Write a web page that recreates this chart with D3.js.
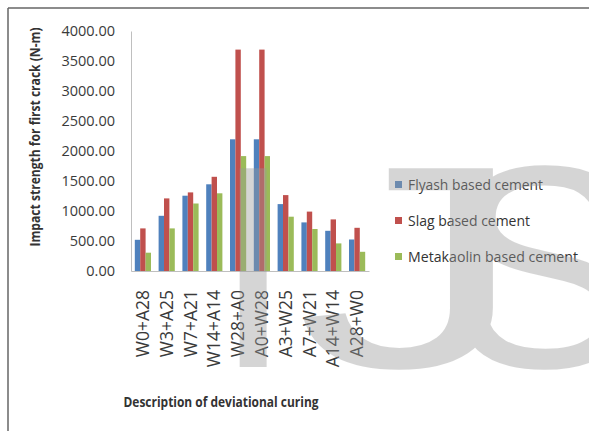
<!DOCTYPE html>
<html>
<head>
<meta charset="utf-8">
<script src="https://cdn.jsdelivr.net/npm/d3@7"></script>
<style>
    body { margin: 0; background: #fff; }
    #chart svg { display: block; }
</style>
</head>
<body>
<div id="chart"></div>
<script>
// categories and series values
const categories = ["W0+A28", "W3+A25", "W7+A21", "W14+A14", "W28+A0", "A0+W28", "A3+W25", "A7+W21", "A14+W14", "A28+W0"];
const flyash = [520, 920, 1255, 1445, 2195, 2195, 1115, 810, 670, 525];
const slag = [710, 1210, 1310, 1570, 3690, 3690, 1265, 990, 860, 720];
const metakaolin = [305, 710, 1125, 1295, 1915, 1915, 905, 700, 460, 320];
const seriesNames = ["Flyash based cement", "Slag based cement", "Metakaolin based cement"];
const yTicks = [0, 500, 1000, 1500, 2000, 2500, 3000, 3500, 4000];

const colors = ["#4F81BD", "#C0504D", "#9BBB59"];
const font = "'Open Sans', 'DejaVu Sans', sans-serif";

const width = 589, height = 431;
const margin = {top: 31, left: 131};
const plotWidth = 238, plotHeight = 240;

const series = [flyash, slag, metakaolin];

const svg = d3.select("#chart").append("svg")
    .attr("width", width)
    .attr("height", height);

// frame lines (top and left)
svg.append("line").attr("x1", 8).attr("x2", width).attr("y1", 8).attr("y2", 8)
    .attr("stroke", "#666").attr("stroke-width", 1.5);
svg.append("line").attr("x1", 8).attr("x2", 8).attr("y1", 8).attr("y2", height)
    .attr("stroke", "#666").attr("stroke-width", 1.5);

const g = svg.append("g").attr("transform", `translate(${margin.left},${margin.top})`);

const x0 = d3.scaleBand().domain(categories).range([0, plotWidth])
    .paddingInner(0.32).paddingOuter(0.16);
const x1 = d3.scaleBand().domain(d3.range(3)).range([0, x0.bandwidth()]);
const y = d3.scaleLinear().domain([0, 4000]).range([plotHeight, 0]);

// y axis labels
const yAxis = g.append("g")
    .call(d3.axisLeft(y).tickValues(yTicks).tickFormat(d3.format(".2f")).tickSize(0).tickPadding(16));
yAxis.select(".domain").attr("stroke", "#bfbfbf");
yAxis.selectAll("text").attr("fill", "#3a3a3a").style("font-family", font).style("font-size", "14.5px");

// bars
categories.forEach((c, i) => {
    const grp = g.append("g").attr("transform", `translate(${x0(c)},0)`);
    series.forEach((s, k) => {
        grp.append("rect")
            .attr("x", x1(k))
            .attr("y", y(s[i]))
            .attr("width", x1.bandwidth())
            .attr("height", plotHeight - y(s[i]))
            .attr("fill", colors[k]);
    });
});

// x axis
const xAxis = g.append("g")
    .attr("transform", `translate(0,${plotHeight})`)
    .call(d3.axisBottom(x0).tickSize(0).tickSizeOuter(0));
xAxis.select(".domain").attr("stroke", "#bfbfbf");
xAxis.selectAll("text")
    .attr("transform", "rotate(-90)")
    .attr("text-anchor", "end")
    .attr("x", -19)
    .attr("y", 0)
    .attr("dy", "0.35em")
    .attr("fill", "#3a3a3a")
    .style("font-family", font)
    .style("font-size", "17.5px");

// axis titles
svg.append("text")
    .attr("transform", "translate(40,137) rotate(-90)")
    .attr("text-anchor", "middle")
    .attr("textLength", 219)
    .attr("lengthAdjust", "spacingAndGlyphs")
    .attr("fill", "#333")
    .style("font-family", font)
    .style("font-size", "13.5px")
    .style("font-weight", "bold")
    .text("Impact strength for first crack  (N-m)");

svg.append("text")
    .attr("x", 221)
    .attr("y", 407)
    .attr("text-anchor", "middle")
    .attr("textLength", 195)
    .attr("lengthAdjust", "spacingAndGlyphs")
    .attr("fill", "#333")
    .style("font-family", font)
    .style("font-size", "14.5px")
    .style("font-weight", "bold")
    .text("Description of deviational curing");

// legend
const legendWidths = [135, 122, 170];
const legend = svg.append("g").attr("transform", "translate(395,185)");
seriesNames.forEach((name, k) => {
    const row = legend.append("g").attr("transform", `translate(0,${k * 36})`);
    row.append("rect").attr("x", 0).attr("y", -4).attr("width", 7).attr("height", 7).attr("fill", colors[k]);
    row.append("text")
        .attr("x", 13)
        .attr("y", 0)
        .attr("dy", "0.35em")
        .attr("textLength", legendWidths[k])
        .attr("lengthAdjust", "spacingAndGlyphs")
        .attr("fill", "#333")
        .style("font-family", font)
        .style("font-size", "15px")
        .text(name);
});

// watermark (light gray letters laid over the chart)
const wm = svg.append("g")
    .attr("fill", "#999")
    .attr("opacity", 0.4)
    .style("font-family", "'Liberation Sans', Arial, sans-serif")
    .style("font-size", "289px");
wm.append("text").attr("x", 213).attr("y", 367).text("I");
wm.append("text").attr("transform", "translate(296,367) scale(1.6,1)").text("J");
wm.append("text").attr("x", 447).attr("y", 367).text("S");
</script>
</body>
</html>
